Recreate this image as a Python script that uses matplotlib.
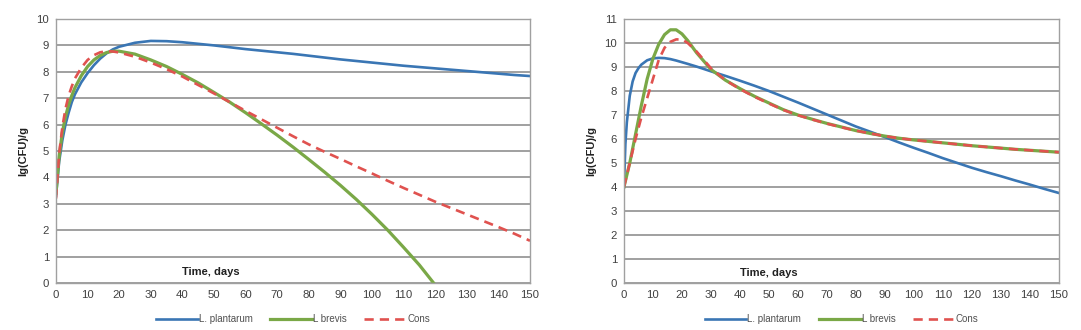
import matplotlib
matplotlib.use("Agg")
import matplotlib.pyplot as plt

plt.rcParams['font.family'] = ['Liberation Sans', 'DejaVu Sans']

# ---- left chart data (time, days -> lg(CFU)/g)
t_left = [0, 1, 2, 3, 4, 5, 6, 8, 10, 12, 14, 16, 18, 20, 25, 30, 35, 40, 45, 50,
          55, 60, 65, 70, 75, 80, 85, 90, 95, 100, 105, 110, 115, 120, 125, 130,
          135, 140, 145, 150]
plantarum_left = [3.3, 4.6, 5.4, 6.0, 6.45, 6.85, 7.15, 7.6, 7.95, 8.25, 8.5, 8.7,
                  8.85, 8.95, 9.1, 9.17, 9.16, 9.12, 9.06, 9.0, 8.93, 8.86, 8.8,
                  8.74, 8.68, 8.61, 8.54, 8.47, 8.41, 8.35, 8.29, 8.23, 8.18, 8.13,
                  8.08, 8.03, 7.98, 7.93, 7.88, 7.84]
t_brevis_left = [0, 1, 2, 3, 4, 5, 6, 8, 10, 12, 14, 16, 18, 20, 25, 30, 35, 40,
                 45, 50, 55, 60, 65, 70, 75, 80, 85, 90, 95, 100, 105, 110, 115,
                 119.5]
brevis_left = [3.4, 4.8, 5.7, 6.3, 6.75, 7.1, 7.4, 7.85, 8.2, 8.45, 8.62, 8.73,
               8.78, 8.78, 8.67, 8.45, 8.2, 7.9, 7.58, 7.22, 6.85, 6.45, 6.03, 5.6,
               5.15, 4.68, 4.2, 3.7, 3.17, 2.6, 2.0, 1.35, 0.68, 0.0]
cons_left = [3.2, 4.9, 5.9, 6.6, 7.1, 7.45, 7.75, 8.15, 8.45, 8.63, 8.74, 8.78,
             8.77, 8.73, 8.57, 8.35, 8.1, 7.82, 7.5, 7.18, 6.85, 6.52, 6.2, 5.88,
             5.56, 5.25, 4.97, 4.7, 4.42, 4.15, 3.87, 3.6, 3.34, 3.08, 2.84, 2.6,
             2.36, 2.12, 1.87, 1.6]

# ---- right chart data
t_right = [0, 0.5, 1, 2, 3, 4, 5, 6, 8, 10, 12, 14, 16, 18, 20, 22, 25, 30, 35,
           40, 45, 50, 55, 60, 65, 70, 75, 80, 85, 90, 95, 100, 105, 110, 115,
           120, 125, 130, 135, 140, 145, 150]
plantarum_right = [4.0, 5.8, 6.7, 7.8, 8.4, 8.75, 8.95, 9.1, 9.28, 9.36, 9.38,
                   9.37, 9.33, 9.27, 9.2, 9.13, 9.02, 8.82, 8.63, 8.43, 8.22, 8.0,
                   7.76, 7.52, 7.27, 7.02, 6.77, 6.52, 6.3, 6.08, 5.85, 5.63, 5.42,
                   5.2, 5.0, 4.8, 4.62, 4.45, 4.27, 4.1, 3.92, 3.75]
brevis_right = [4.0, 4.25, 4.5, 5.0, 5.6, 6.2, 6.8, 7.4, 8.5, 9.35, 9.95, 10.35,
                10.55, 10.55, 10.38, 10.1, 9.6, 8.9, 8.45, 8.1, 7.78, 7.5, 7.22,
                7.0, 6.82, 6.65, 6.5, 6.35, 6.23, 6.12, 6.03, 5.96, 5.9, 5.84,
                5.78, 5.72, 5.67, 5.62, 5.57, 5.53, 5.49, 5.45]
cons_right = [4.0, 4.25, 4.5, 5.0, 5.5, 6.0, 6.45, 6.9, 7.7, 8.5, 9.3, 9.8, 10.05,
              10.15, 10.15, 10.0, 9.65, 8.95, 8.45, 8.08, 7.76, 7.48, 7.21, 6.99,
              6.81, 6.64, 6.49, 6.35, 6.23, 6.12, 6.03, 5.96, 5.9, 5.84, 5.78,
              5.72, 5.67, 5.62, 5.57, 5.53, 5.49, 5.45]

labels = ["L. plantarum", "L brevis", "Cons"]
colors = ["#3a76b4", "#7aa847", "#e0524f"]
x_ticks = list(range(0, 151, 10))

fig = plt.figure(figsize=(10.81, 3.30), dpi=100)
ax_left = fig.add_axes([0.0518, 0.1424, 0.4385, 0.80])
ax_right = fig.add_axes([0.5772, 0.1424, 0.4024, 0.80])


def style_axes(ax, ymax):
    ax.set_xlim(0, 150)
    ax.set_ylim(0, ymax)
    ax.set_xticks(x_ticks)
    ax.set_yticks(range(0, ymax + 1))
    ax.tick_params(length=0, labelsize=8.2, labelcolor="#404040", pad=5)
    ax.yaxis.grid(True, color="#a0a0a0", linewidth=1.4)
    ax.set_axisbelow(True)
    for sp in ax.spines.values():
        sp.set_color("#a0a0a0")
        sp.set_linewidth(1.0)
    ax.text(40, 0.3, "Time, days", fontsize=8, fontweight="bold", color="#202020")
    ax.set_ylabel("lg(CFU)/g", fontsize=8, fontweight="bold", color="#202020",
                  labelpad=6)


style_axes(ax_left, 10)
ax_left.plot(t_left, plantarum_left, color=colors[0], lw=1.9, label=labels[0])
ax_left.plot(t_brevis_left, brevis_left, color=colors[1], lw=2.3, label=labels[1])
ax_left.plot(t_left, cons_left, color=colors[2], lw=1.9, dashes=(3.5, 2.3),
             label=labels[2])

style_axes(ax_right, 11)
ax_right.plot(t_right, plantarum_right, color=colors[0], lw=1.9, label=labels[0])
ax_right.plot(t_right, brevis_right, color=colors[1], lw=2.3, label=labels[1])
ax_right.plot(t_right, cons_right, color=colors[2], lw=1.9, dashes=(3.5, 2.3),
              label=labels[2])

for ax in (ax_left, ax_right):
    leg = ax.legend(loc="upper center", bbox_to_anchor=(0.5, -0.085), ncol=3,
                    frameon=False, fontsize=7, handlelength=4.3,
                    handletextpad=0.1, columnspacing=1.8)
    for txt in leg.get_texts():
        txt.set_color("#505050")

fig.savefig("out.png", dpi=100)
